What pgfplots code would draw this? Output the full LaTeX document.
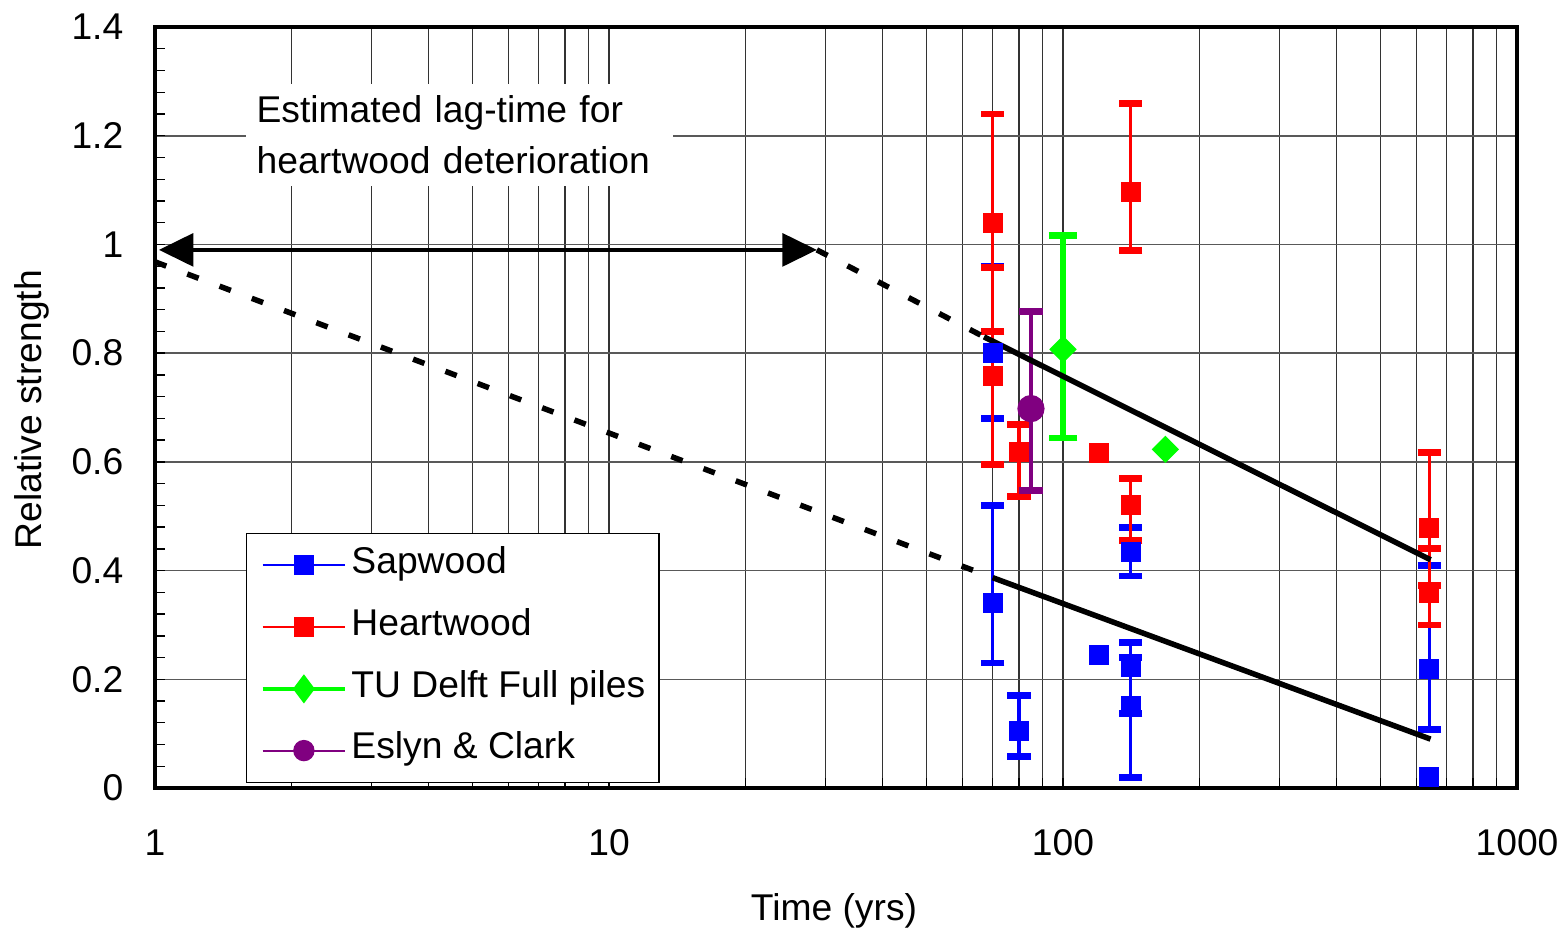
\documentclass[border=0pt]{standalone}
\usepackage{fontspec}
\setmainfont{Liberation Sans}
\usepackage{pgfplots}
\pgfplotsset{compat=1.18}
\usetikzlibrary{arrows.meta}

\definecolor{sap}{RGB}{0,0,255}
\definecolor{heart}{RGB}{255,0,0}
\definecolor{delft}{RGB}{0,255,0}
\definecolor{eslyn}{RGB}{128,0,128}

\pgfplotsset{
  errbars/.style 2 args={
    only marks,
    /pgfplots/error bars/y dir=both,
    /pgfplots/error bars/y explicit,
    /pgfplots/error bars/error bar style={line width=#1},
    /pgfplots/error bars/error mark options={rotate=90, line width=2pt, mark size=#2},
  },
  fitline/.style={black, line width=1.6pt, forget plot},
  dotline/.style={black, line width=1.6pt, dash pattern=on 3.5pt off 6.5pt, forget plot},
}

\begin{document}
\begin{tikzpicture}[font=\fontsize{10.8}{13}\selectfont]
\begin{axis}[
  scale only axis, width=395pt, height=220.7pt,
  xmode=log, xmin=1, xmax=1000,
  ymin=0, ymax=1.4,
  xtick={1,10,100,1000},
  log ticks with fixed point,
  ytick={0,0.2,0.4,0.6,0.8,1,1.2,1.4},
  minor y tick num=4,
  /pgf/number format/1000 sep={},
  /pgf/number format/assume math mode=true,
  tick pos=left, tick align=inside,
  major tick length=3pt, minor tick length=3pt,
  tick style={black, line width=0.4pt},
  axis line style={line width=1pt},
  xmajorgrids, xminorgrids, ymajorgrids,
  major x grid style={black!80, line width=0.4pt},
  minor x grid style={black!80, line width=0.4pt},
  major y grid style={black!65, line width=0.45pt},
  yticklabel style={inner xsep=0pt, xshift=-9pt},
  xticklabel style={anchor=center, yshift=-15.8pt},
  xlabel={Time (yrs)},
  ylabel={Relative strength},
  xlabel style={at={(axis description cs:0.4985,-0.1616)}, anchor=center},
  ylabel style={at={(axis description cs:-0.0903,0.497)}, anchor=center},
  legend cell align=left,
  legend style={at={(axis description cs:0.0668,0.3351)}, anchor=north west,
    draw=black, line width=0.4pt, fill=white,
    inner xsep=4pt, inner ysep=4pt, row sep=7.5pt, column sep=1.2pt,
    nodes={inner xsep=0pt, inner ysep=0pt, text height=7.6pt, text depth=2.8pt}},
  legend image code/.code={
    \draw[mark repeat=2, mark phase=2, #1] plot coordinates {(0pt,0pt) (12pt,0pt) (24pt,0pt)};
  },
]
\addlegendimage{sap, line width=0.6pt, mark=square*, mark size=2.7pt, mark options={line width=0.4pt}}
\addlegendentry{Sapwood}
\addlegendimage{heart, line width=0.6pt, mark=square*, mark size=2.7pt, mark options={line width=0.4pt}}
\addlegendentry{Heartwood}
\addlegendimage{delft, line width=1.2pt, mark=diamond*, mark size=3.9pt, mark options={line width=0.4pt}}
\addlegendentry{TU Delft Full piles}
\addlegendimage{eslyn, line width=0.6pt, mark=*, mark size=2.9pt, mark options={line width=0.4pt}}
\addlegendentry{Eslyn \& Clark}

% Sapwood
\addplot[sap, mark=square*, mark size=2.7pt, forget plot, errbars={0.9pt}{3.4pt}] coordinates {
  (70,0.80) += (0,0.16) -= (0,0.12)
  (70,0.34) += (0,0.18) -= (0,0.11)
  (80,0.105) += (0,0.065) -= (0,0.047)
  (141,0.435) += (0,0.045) -= (0,0.045)
  (141,0.223) += (0,0.044) -= (0,0.086)
  (141,0.15) += (0,0.09) -= (0,0.13)
  (641,0.219) += (0,0.19) -= (0,0.112)
};
\addplot[sap, only marks, mark=square*, mark size=2.7pt, forget plot] coordinates {
  (120,0.245) (641,0.021)
};
% Heartwood
\addplot[heart, mark=square*, mark size=2.7pt, forget plot, errbars={0.9pt}{3.4pt}] coordinates {
  (70,1.04) += (0,0.20) -= (0,0.20)
  (70,0.758) += (0,0.20) -= (0,0.162)
  (80,0.619) += (0,0.049) -= (0,0.083)
  (141,1.097) += (0,0.163) -= (0,0.108)
  (141,0.521) += (0,0.049) -= (0,0.065)
  (641,0.478) += (0,0.139) -= (0,0.105)
  (641,0.358) += (0,0.082) -= (0,0.058)
};
\addplot[heart, only marks, mark=square*, mark size=2.7pt, forget plot] coordinates {
  (120,0.617)
};
% TU Delft
\addplot[delft, mark=square*, mark size=2.6pt, mark options={rotate=45}, forget plot, errbars={1.5pt}{4.2pt}] coordinates {
  (100,0.807) += (0,0.21) -= (0,0.163)
};
\addplot[delft, only marks, mark=square*, mark size=2.6pt, mark options={rotate=45}, forget plot] coordinates {
  (168,0.623)
};
% Eslyn & Clark
\addplot[eslyn, mark=*, mark size=3.75pt, forget plot, errbars={0.9pt}{3.4pt}] coordinates {
  (85,0.698) += (0,0.178) -= (0,0.15)
};

% trend lines
\addplot[fitline] coordinates {(67,0.83) (645,0.42)};
\addplot[fitline] coordinates {(70,0.387) (645,0.09)};
\addplot[dotline] coordinates {(28.7,0.99) (67,0.83)};
\addplot[dotline] coordinates {(1,0.968) (70,0.387)};
\addplot[black, line width=1.1pt, forget plot,
  {Triangle[length=10pt,width=9.5pt]}-{Triangle[length=10pt,width=9.5pt]}]
  coordinates {(1.02,0.99) (28.7,0.99)};

\node[anchor=north west, fill=white, align=left, text width=117.6pt,
  inner xsep=3.2pt, inner ysep=3.3pt, font=\fontsize{10.8}{15}\selectfont]
  at (axis cs:1.578,1.297) {Estimated lag-time for\\heartwood deterioration};

\coordinate (bl) at (axis description cs:-0.1138,-0.1905);
\coordinate (tr) at (axis description cs:1.0367,1.0355);
\end{axis}
\pgfresetboundingbox
\path[use as bounding box] (bl) rectangle (tr);
\end{tikzpicture}
\end{document}
